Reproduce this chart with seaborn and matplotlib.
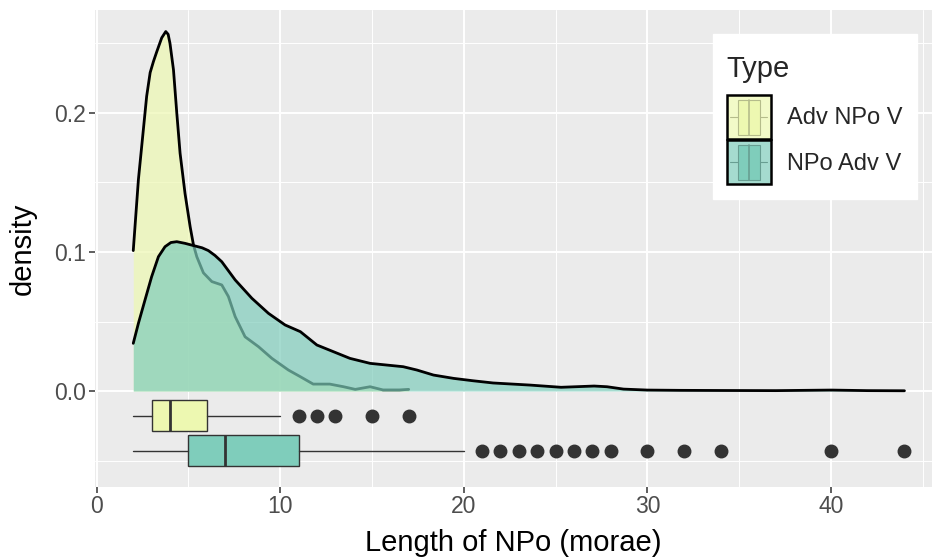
import matplotlib
matplotlib.use("Agg")
import matplotlib.pyplot as plt
import pandas as pd
import seaborn as sns
from matplotlib.patches import Rectangle
from matplotlib.lines import Line2D
from matplotlib.legend_handler import HandlerBase

# ── Data ─────────────────────────────────────────────────────────────────────
types = ["Adv NPo V", "NPo Adv V"]
fill_colors = ["#EDF8B1", "#7FCDBB"]

# density curve, Adv NPo V
adv_x = [2.0, 2.28, 2.55, 2.73, 2.92, 3.1, 3.28, 3.55, 3.77, 3.9, 4.0, 4.19, 4.37,
         4.55, 4.82, 5.1, 5.28, 5.46, 5.82, 6.28, 6.82, 7.18, 7.55, 8.09, 8.82,
         9.55, 10.45, 11.1, 11.8, 12.7, 13.45, 14.09, 14.9, 15.6, 16.5, 17.0]
adv_d = [0.101, 0.152, 0.188, 0.212, 0.229, 0.237, 0.244, 0.254, 0.2585, 0.2565,
         0.250, 0.231, 0.200, 0.171, 0.142, 0.118, 0.105, 0.0966, 0.085, 0.0787,
         0.0763, 0.068, 0.0535, 0.039, 0.0319, 0.0235, 0.0151, 0.0103, 0.0050,
         0.0050, 0.0031, 0.0012, 0.0031, 0.0008, 0.0008, 0.0012]

# density curve, NPo Adv V
npo_x = [2.0, 2.28, 2.64, 3.0, 3.37, 3.73, 4.05, 4.37, 4.82, 5.37, 5.75, 6.09,
         6.45, 6.82, 7.55, 8.46, 9.36, 10.27, 11.1, 12.0, 12.9, 13.8, 14.9, 15.8,
         16.7, 17.45, 18.35, 19.45, 20.5, 21.6, 23.6, 25.3, 27.1, 27.8, 28.7,
         30.0, 31.8, 34.0, 37.0, 40.0, 42.0, 44.0]
npo_d = [0.0343, 0.0487, 0.0655, 0.0822, 0.0966, 0.1038, 0.1068, 0.1074, 0.1062,
         0.1043, 0.1030, 0.1010, 0.0975, 0.093, 0.0799, 0.0667, 0.0559, 0.0475,
         0.0427, 0.0331, 0.0283, 0.0235, 0.0199, 0.0187, 0.0175, 0.0151, 0.0115,
         0.0091, 0.0074, 0.0058, 0.0043, 0.0027, 0.0036, 0.0031, 0.0014, 0.0007,
         0.0005, 0.0004, 0.0003, 0.0007, 0.0003, 0.0002]

# boxplot statistics: whislo, q1, median, q3, whishi, outliers
adv_box = [2, 3, 4, 6, 10]
adv_fliers = [11, 12, 13, 15, 17]
npo_box = [2, 5, 7, 11, 20]
npo_fliers = [21, 22, 23, 24, 25, 26, 27, 28, 30, 32, 34, 40, 44]
box_pos = [-0.0178, -0.043]

x_ticks = [0, 10, 20, 30, 40]
y_ticks = [0.0, 0.1, 0.2]

# ── Style ─────────────────────────────────────────────────────────────────────
sns.set_theme(style="darkgrid", rc={
    "axes.facecolor": "#EBEBEB",
    "grid.color": "white",
    "figure.facecolor": "white",
})
plt.rcParams["font.family"] = ["Liberation Sans", "DejaVu Sans"]

fig = plt.figure(figsize=(9.34, 5.57), dpi=100)
ax = fig.add_axes([94.7 / 934, 1 - 487 / 557, (932 - 94.7) / 934, (487 - 10) / 557])

ALPHA = 0.7
curves = [(adv_x, adv_d), (npo_x, npo_d)]
for i, ((xs, ds), col) in enumerate(zip(curves, fill_colors)):
    df = pd.DataFrame({"x": xs, "d": ds})
    ax.fill_between(df["x"], 0, df["d"], color=col, alpha=ALPHA, lw=0, zorder=2 + 2 * i)
    sns.lineplot(data=df, x="x", y="d", ax=ax, color="black", lw=2.0,
                 estimator=None, zorder=3 + 2 * i)

stats = []
for box, fl, name in [(adv_box, adv_fliers, types[0]), (npo_box, npo_fliers, types[1])]:
    stats.append(dict(whislo=box[0], q1=box[1], med=box[2], q3=box[3],
                      whishi=box[4], fliers=fl, label=name))

bp = ax.bxp(stats, positions=box_pos, widths=0.0223, orientation="horizontal",
            patch_artist=True, showcaps=False, manage_ticks=False,
            boxprops=dict(edgecolor="#333333", lw=1.0),
            whiskerprops=dict(color="#333333", lw=1.0),
            medianprops=dict(color="#333333", lw=2.0),
            flierprops=dict(marker="o", markerfacecolor="#333333",
                            markeredgecolor="#333333", markersize=9))
for patch, col in zip(bp["boxes"], fill_colors):
    patch.set_facecolor(col)
for artist_list in bp.values():
    for a in artist_list:
        a.set_zorder(8)

# ── Axes ──────────────────────────────────────────────────────────────────────
ax.set_xlim(-0.1, 45.5)
ax.set_ylim(-0.069, 0.274)
ax.set_xticks(x_ticks)
ax.set_xticks([5, 15, 25, 35, 45], minor=True)
ax.set_yticks(y_ticks)
ax.set_yticks([-0.05, 0.05, 0.15, 0.25], minor=True)
ax.set_yticklabels([f"{v:.1f}" for v in y_ticks])
ax.grid(which="major", color="white", lw=1.4)
ax.grid(which="minor", color="white", lw=0.7)
ax.set_axisbelow(True)
ax.tick_params(which="major", length=4, width=1.1, color="#333333",
               labelcolor="#4D4D4D", labelsize=16.5, pad=2, left=True, bottom=True)
ax.tick_params(which="minor", length=0)
for s in ax.spines.values():
    s.set_visible(False)
ax.set_xlabel("Length of NPo (morae)", fontsize=21, color="black", labelpad=8)
ax.set_ylabel("density", fontsize=21, color="black", labelpad=13)


# ── Legend with boxplot glyph inside density key ─────────────────────────────
class KeyHandle:
    def __init__(self, color):
        self.color = color


class BoxKeyHandler(HandlerBase):
    def create_artists(self, legend, orig, xd, yd, w, h, fontsize, trans):
        x0, y0 = -xd, -yd
        c = orig.color
        arts = [
            Line2D([x0 + 0.08 * w, x0 + 0.25 * w], [y0 + h / 2] * 2, color="#333333", lw=0.8),
            Line2D([x0 + 0.75 * w, x0 + 0.92 * w], [y0 + h / 2] * 2, color="#333333", lw=0.8),
            Rectangle((x0 + 0.25 * w, y0 + 0.1 * h), 0.5 * w, 0.8 * h,
                      fc=c, ec="#333333", lw=0.8),
            Line2D([x0 + 0.5 * w] * 2, [y0 + 0.1 * h, y0 + 0.9 * h], color="#333333", lw=1.2),
            Rectangle((x0, y0), w, h, fc=c, alpha=ALPHA, lw=0),
            Rectangle((x0, y0), w, h, fc="none", ec="black", lw=1.8),
        ]
        for a in arts:
            a.set_transform(trans)
        return arts


handles = [KeyHandle(c) for c in fill_colors]
leg = ax.legend(handles, types, handler_map={KeyHandle: BoxKeyHandler()},
                title="Type", loc="upper right", bbox_to_anchor=(0.982, 0.950),
                borderaxespad=0, frameon=True, fancybox=False, fontsize=17,
                title_fontsize=21, handlelength=1.86, handleheight=2.49,
                labelspacing=0.05, handletextpad=0.7, borderpad=0.6,
                alignment="left")
leg.get_frame().set_facecolor("white")
leg.get_frame().set_edgecolor("white")
leg.get_frame().set_alpha(1)
leg.set_zorder(10)
# extra gap between the title and the keys, title nudged down a little
leg._legend_box.sep = 13.8
leg.get_title().set_y(-7)

fig.savefig("out.png", dpi=100)
